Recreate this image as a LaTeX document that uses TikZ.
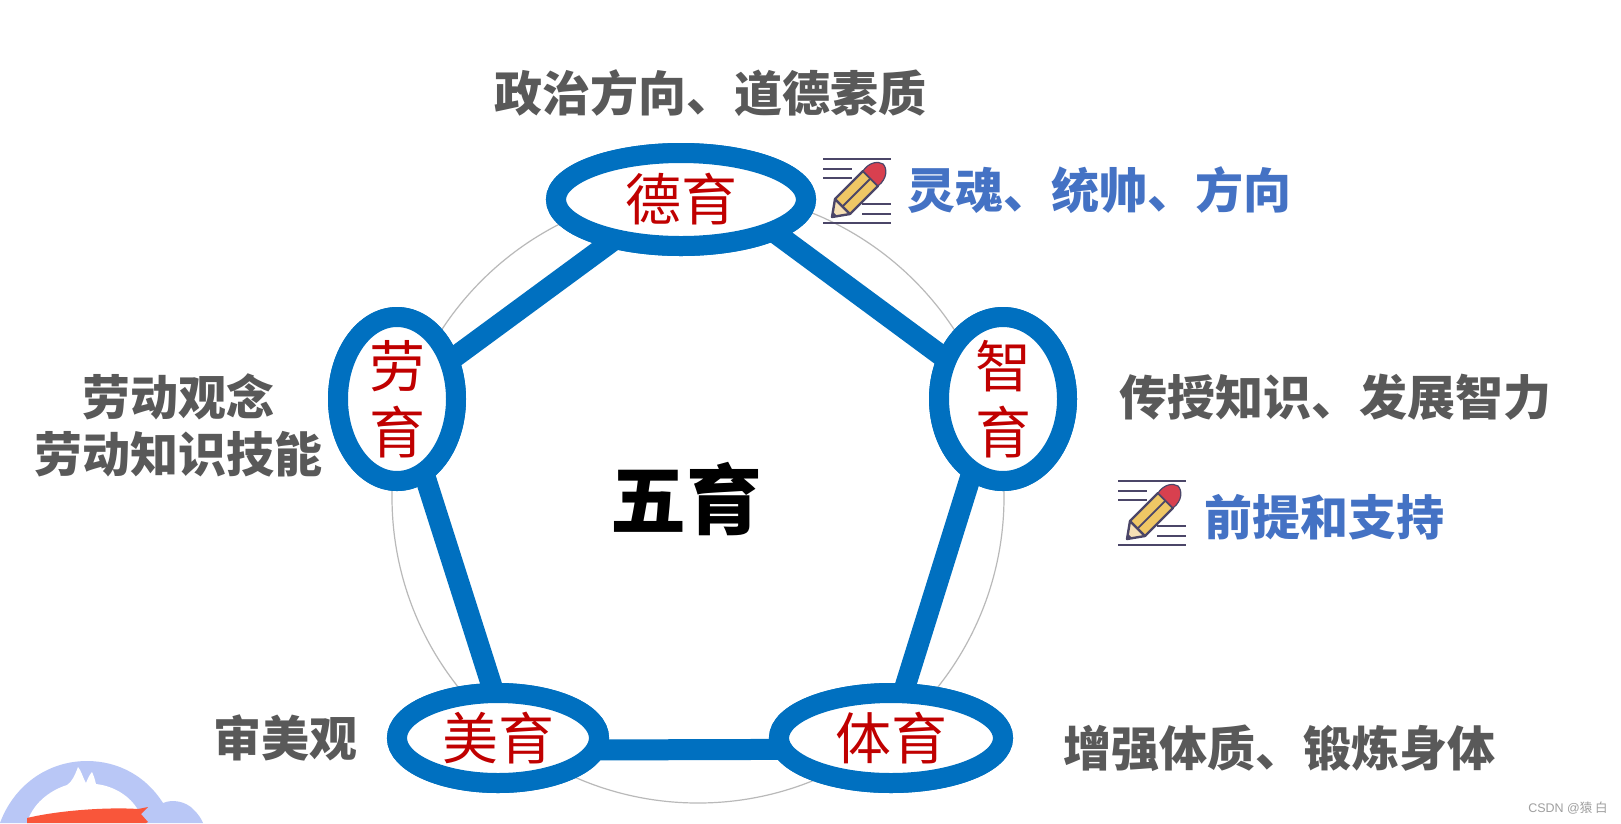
\documentclass[tikz,border=0pt]{standalone}
\usepackage{fontspec}
\setmainfont{Noto Sans CJK SC}
\setsansfont{Liberation Sans}
\usetikzlibrary{shapes.geometric}
\definecolor{ringblue}{HTML}{0070C0}
\definecolor{labelred}{HTML}{C00000}
\definecolor{textgrey}{HTML}{595959}
\definecolor{noteblue}{HTML}{4472C4}
\definecolor{iconline}{HTML}{4B4668}
\definecolor{iconyellow}{HTML}{EFC765}
\definecolor{iconred}{HTML}{D8404F}
\definecolor{icontip}{HTML}{F6E0B5}
\definecolor{logoblue}{HTML}{B9C7F6}
\definecolor{logored}{HTML}{F9563A}
\tikzset{
  x=1pt,y=-1pt,
  ringnode/.style={ellipse,draw=ringblue,line width=20pt,fill=white,inner sep=-12pt,outer sep=0pt,
    text=labelred,align=center,font=\fontsize{56}{66}\selectfont},
  link/.style={draw=ringblue,line width=21pt},
  greytext/.style={text=textgrey,align=center,inner sep=0pt,font=\fontsize{48}{57}\selectfont\bfseries},
  bluetext/.style={text=noteblue,inner sep=0pt,font=\fontsize{48}{57}\selectfont\bfseries},
  iconrule/.style={draw=iconline,line width=2.8pt},
  pics/noteicon/.style={code={
    \draw[iconrule] (-34,-32)--(34,-32) (-34,-22)--(-5,-22) (-34,-13)--(-5,-13)
      (5,13)--(34,13) (5,23)--(34,23) (-34,32)--(34,32);
    \fill[icontip,draw=iconline,line width=2.4pt,line join=round] (-25,26)--(-7,23)--(-22,8)--cycle;
    \fill[iconline] (-25,26)--(-20,25)--(-24,21)--cycle;
    \fill[iconyellow,draw=iconline,line width=2.4pt,line join=round] (-7,23)--(21,-5)--(6,-20)--(-22,8)--cycle;
    \draw[iconline,line width=1.8pt] (-14.5,15.5)--(13.5,-12.5);
    \fill[iconred,draw=iconline,line width=1.2pt,line join=round] (21,-5)..controls (31,-13) and (30,-23) .. (26,-27)
      ..controls (21,-30) and (12,-29) .. (6,-20)--cycle;
  }}
}
\begin{document}
\begin{tikzpicture}
\useasboundingbox[fill=white] (0,0) rectangle (1621,823);
% logo
\begin{scope}
\clip (0,0) rectangle (1621,823);
\fill[logoblue] (0,823) .. controls (14,785) and (48,761) .. (87,761)
  .. controls (118,761) and (146,776) .. (163,803)
  .. controls (172,799) and (186,801) .. (194,810)
  .. controls (198,814) and (201,818) .. (203,823) -- cycle;
\fill[white] (27,823) .. controls (32,805) and (48,791) .. (67,785)
  .. controls (72,782) and (75,775) .. (78,767)
  .. controls (81,770) and (83,778) .. (86,783)
  .. controls (88,778) and (90,774) .. (92,772)
  .. controls (94,776) and (95,780) .. (96,784)
  .. controls (114,786) and (130,796) .. (138,810) -- (140,823) -- cycle;
\fill[logored] (27,818) .. controls (60,810) and (110,807) .. (138,809)
  -- (148,807) -- (141,814) -- (148,822) -- (146,823) -- (27,823) -- cycle;
\end{scope}
% guide circle
\node[circle,draw=gray!55,line width=1.2pt,minimum size=612pt,inner sep=0pt,outer sep=0pt] (guide) at (698,497) {};
% ring nodes placed first so the links can refer to them
\node[ringnode,minimum width=250pt,minimum height=93pt] (de) at (681,199.5) {德育};
\node[ringnode,minimum width=128pt,minimum height=164pt] (zhi) at (1003,399) {智\\育};
\node[ringnode,minimum width=224pt,minimum height=90pt] (ti) at (891,738) {体育};
\node[ringnode,minimum width=202pt,minimum height=90pt] (mei) at (498,738) {美育};
\node[ringnode,minimum width=118pt,minimum height=164pt] (lao) at (397,399) {劳\\育};
% links
\draw[link] (de.-19.5) -- (zhi.145);
\draw[link] (zhi.-113) -- (ti.75);
\draw[link] (ti.186.6) -- (mei.-7.2);
\draw[link] (mei.95) -- (lao.-70);
\draw[link] (lao.36) -- (de.211);
% redraw rings on top of the links
\node[ringnode,minimum width=250pt,minimum height=93pt] at (de.center) {德育};
\node[ringnode,minimum width=128pt,minimum height=164pt] at (zhi.center) {智\\育};
\node[ringnode,minimum width=224pt,minimum height=90pt] at (ti.center) {体育};
\node[ringnode,minimum width=202pt,minimum height=90pt] at (mei.center) {美育};
\node[ringnode,minimum width=118pt,minimum height=164pt] at (lao.center) {劳\\育};
% texts
\node[inner sep=0pt,text=black,font=\fontsize{76}{84}\selectfont\bfseries] (wu) at (686,499) {五育};
\node[greytext] (t1) at (710,93) {政治方向、道德素质};
\node[bluetext] (b1) at (1099,190) {灵魂、统帅、方向};
\node[greytext] (t2) at (1335,397) {传授知识、发展智力};
\node[bluetext] (b2) at (1324,517) {前提和支持};
\node[greytext] (t3) at (178,425) {劳动观念\\劳动知识技能};
\node[greytext] (t4) at (285,738) {审美观};
\node[greytext] (t5) at (1279,748) {增强体质、锻炼身体};
\pic at (857,191) {noteicon};
\pic at (1152,513) {noteicon};
\node[inner sep=0pt,text=gray!75,font=\fontsize{12.5}{15}\selectfont] (wm) at (1568,808) {\sffamily CSDN @\rmfamily 猿 白};
\end{tikzpicture}
\end{document}
